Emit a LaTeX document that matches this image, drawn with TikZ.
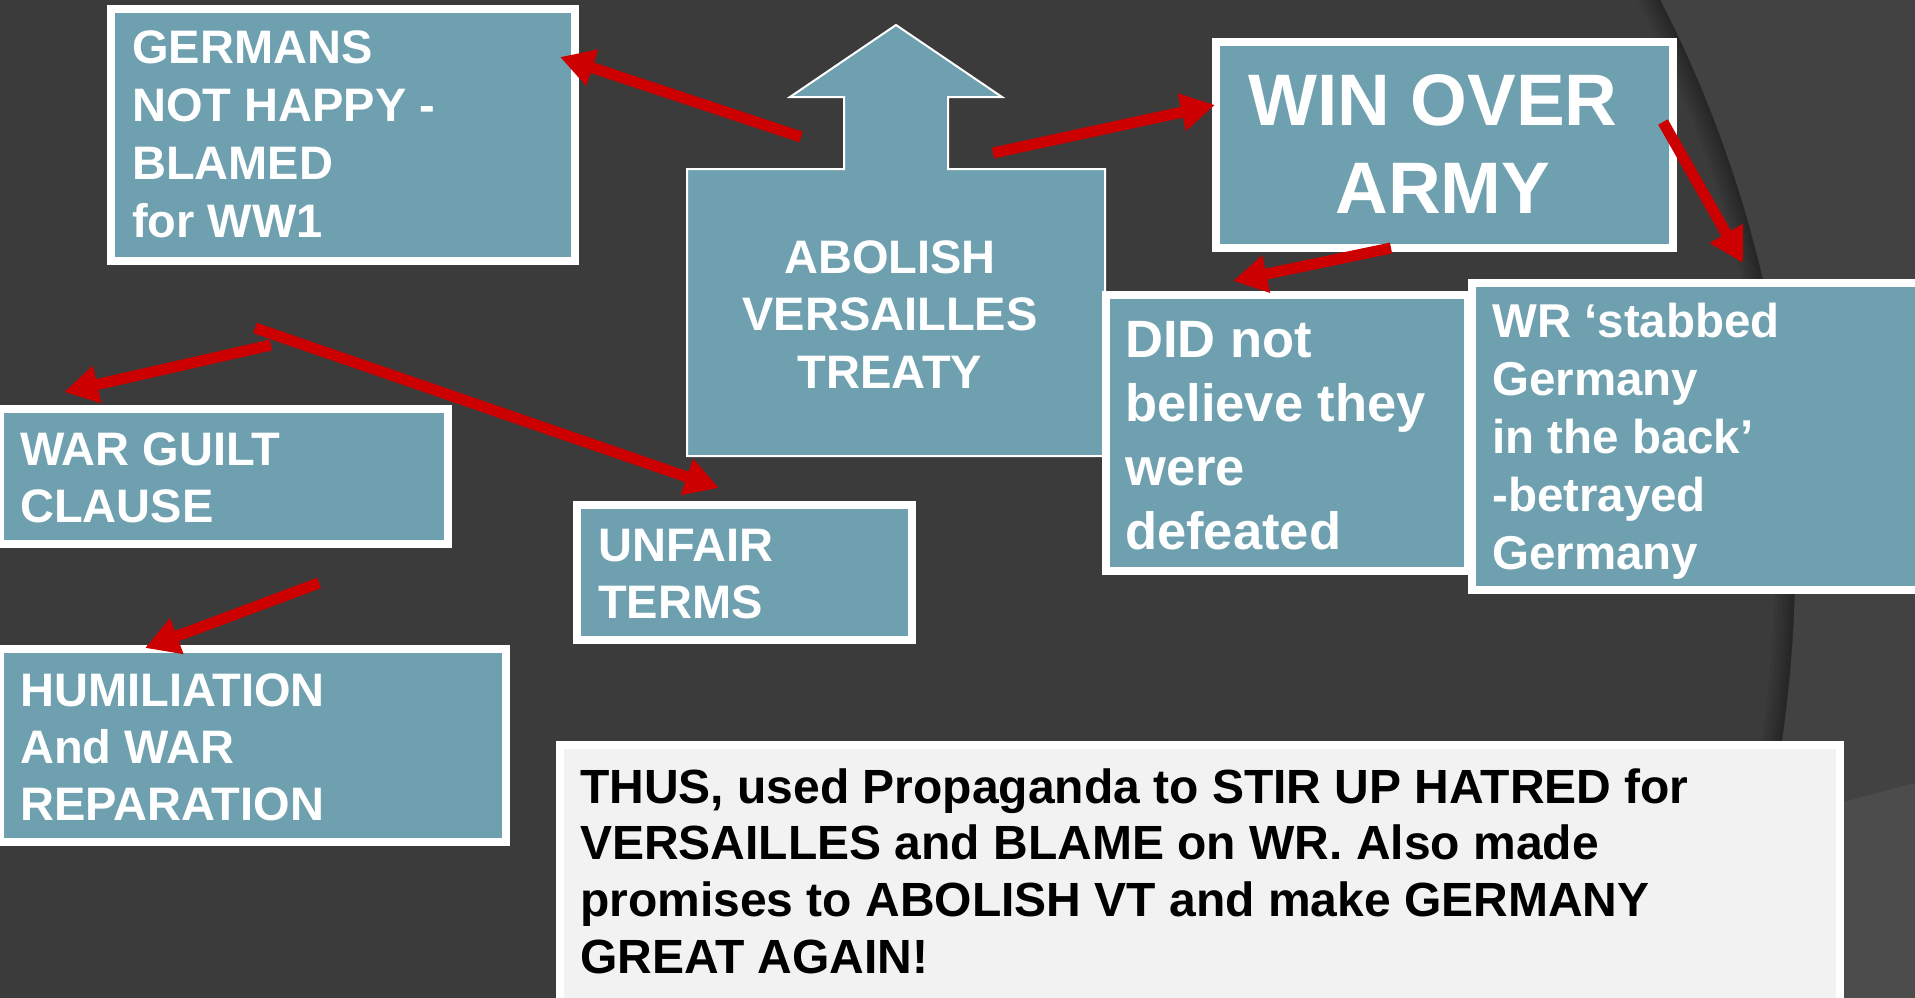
\documentclass[tikz,border=0pt]{standalone}
\usepackage{fontspec}
\setmainfont{Liberation Sans}
\usetikzlibrary{arrows.meta}
\definecolor{bgc}{RGB}{59,59,59}
\definecolor{outerc}{RGB}{66,66,66}
\definecolor{wedgec}{RGB}{76,76,76}
\definecolor{tealc}{RGB}{111,160,176}
\definecolor{redc}{RGB}{204,0,0}
\definecolor{notec}{RGB}{242,242,242}
\newcommand{\stackL}[1]{\vtop{\halign{##\hfil\cr#1\crcr}}}
\newcommand{\stackC}[1]{\vtop{\halign{\hfil##\hfil\cr#1\crcr}}}
\tikzset{
 tealbox/.style={draw=white, line width=8pt, fill=tealc, inner sep=0pt, outer sep=0pt, anchor=north west},
 notebox/.style={tealbox, fill=notec},
 wtext/.style={text=white, inner sep=0pt, anchor=base west},
 ctext/.style={text=white, inner sep=0pt, anchor=base},
 btext/.style={text=black, inner sep=0pt, anchor=base west},
 redarrow/.style={draw=redc, line width=11pt, -{Triangle[length=34pt,width=36pt]}},
}
\begin{document}
\begin{tikzpicture}[x=1pt,y=-1pt]
\useasboundingbox (0,0) rectangle (1915,998);
% background
\fill[bgc] (0,0) rectangle (1915,998);
\fill[outerc, even odd rule] (0,0) rectangle (1915,998) (566,560) circle[radius=1229pt];
\begin{scope}
 \clip (566,560) circle[radius=1229pt];
 \foreach \k in {3,6,9,12,16,20}
  \draw[black, opacity=0.06, line width=2*\k pt] (566,560) circle[radius=1229pt];
\end{scope}
\begin{scope}[even odd rule]
 \clip (0,0) rectangle (1915,998) (566,560) circle[radius=1229pt];
 \fill[wedgec] (1783,818) -- (1915,783) -- (1915,998) -- (1783,998) -- cycle;
\end{scope}

% boxes
\node[tealbox, minimum width=464pt, minimum height=252pt] (g) at (111,9) {};
\path[fill=tealc, draw=white, line width=2pt] (896,25) -- (1002,97) -- (948,97) -- (948,169) -- (1105,169) -- (1105,456) -- (687,456) -- (687,169) -- (844,169) -- (844,97) -- (790,97) -- cycle;
\node[tealbox, minimum width=457pt, minimum height=206pt] (w) at (1216,42) {};
\node[tealbox, minimum width=362pt, minimum height=276pt] (d) at (1106,295) {};
\node[tealbox, minimum width=454pt, minimum height=307pt] (r) at (1472,283) {};
\node[tealbox, minimum width=448pt, minimum height=135pt] (wg) at (0,409) {};
\node[tealbox, minimum width=335pt, minimum height=135pt] (u) at (577,505) {};
\node[tealbox, minimum width=506pt, minimum height=193pt] (h) at (0,649) {};
\node[notebox, minimum width=1280pt, minimum height=261pt] (t) at (560,745) {};

% texts
\node[wtext, font=\bfseries\fontsize{47}{57.8}\selectfont] (gt) at (132,64) {\stackL{GERMANS\cr NOT HAPPY -\cr BLAMED\cr for WW1}};
\node[ctext, font=\bfseries\fontsize{47}{57.5}\selectfont] (abt) at (890,273) {\stackC{ABOLISH\cr VERSAILLES\cr TREATY}};
\node[ctext, font=\bfseries\fontsize{73}{88}\selectfont] (wt) at (1443,125) {\stackC{WIN OVER\kern20pt\cr ARMY}};
\node[wtext, font=\bfseries\fontsize{52.5}{64}\selectfont] (dt) at (1125,357) {\stackL{DID not\cr believe they\cr were\cr defeated}};
\node[wtext, font=\bfseries\fontsize{47.5}{58}\selectfont] (rt) at (1492,337) {\stackL{WR ‘stabbed\cr Germany\cr in the back’\cr -betrayed\cr Germany}};
\node[wtext, font=\bfseries\fontsize{47}{57.5}\selectfont] (wgt) at (20,465) {\stackL{WAR GUILT\cr CLAUSE}};
\node[wtext, font=\bfseries\fontsize{47}{57.5}\selectfont] (ut) at (598,561) {\stackL{UNFAIR\cr TERMS}};
\node[wtext, font=\bfseries\fontsize{47}{57}\selectfont] (ht) at (20,706) {\stackL{HUMILIATION\cr And WAR\cr REPARATION}};
\node[btext, font=\bfseries\fontsize{48}{56.7}\selectfont] (tt) at (580,803) {\stackL{THUS, used Propaganda to STIR UP HATRED for\cr VERSAILLES and BLAME on WR. Also made\cr promises to ABOLISH VT and make GERMANY\cr GREAT AGAIN!}};

% arrow end points
\coordinate (a1s) at (801,137); \coordinate (a1e) at (560,57);
\coordinate (a2s) at (993,153); \coordinate (a2e) at (1215,105);
\coordinate (a3s) at (1663,122); \coordinate (a3e) at (1743,263);
\coordinate (a4s) at (1391,248); \coordinate (a4e) at (1233,281);
\coordinate (a5s) at (271,345); \coordinate (a5e) at (64,392);
\coordinate (a6s) at (255,328); \coordinate (a6e) at (719,488);
\coordinate (a7s) at (319,583); \coordinate (a7e) at (145,648);
\foreach \i in {1,...,7}
  \draw[redarrow] (a\i s) -- (a\i e);
\end{tikzpicture}
\end{document}
